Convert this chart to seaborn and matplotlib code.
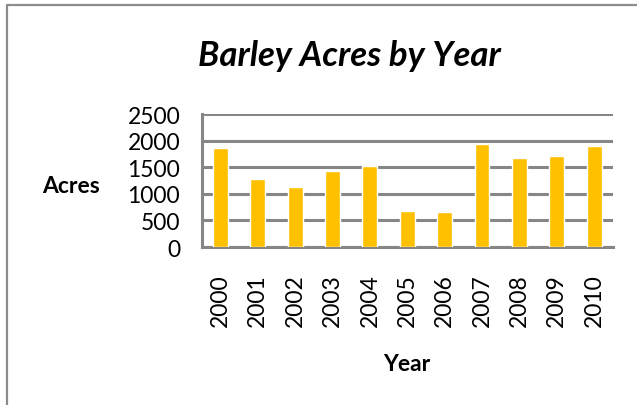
import matplotlib
matplotlib.use("Agg")
import matplotlib.pyplot as plt
import seaborn as sns
import pandas as pd
from matplotlib.lines import Line2D

# Data
years = ["2000", "2001", "2002", "2003", "2004", "2005",
         "2006", "2007", "2008", "2009", "2010"]
acres = [1855, 1270, 1125, 1420, 1520, 685, 650, 1930, 1670, 1710, 1890]

df = pd.DataFrame({"Year": years, "Acres": acres})

sns.set_style("white")
plt.rcParams["font.family"] = ["Lato", "DejaVu Sans"]
plt.rcParams["text.color"] = "black"
plt.rcParams["axes.labelcolor"] = "black"
plt.rcParams["xtick.labelcolor"] = "black"
plt.rcParams["ytick.labelcolor"] = "black"

grid_color = "#868686"

fig = plt.figure(figsize=(6.37, 4.06), dpi=100)
ax = fig.add_axes([0.3167, 0.389, 0.6453, 0.3277])

sns.barplot(x="Year", y="Acres", data=df, color="#FFC000",
            width=0.4, saturation=1, ax=ax, zorder=3)

ax.set_ylim(0, 2500)
ax.set_xlim(-0.5, len(years) - 0.5)
ax.set_yticks([0, 500, 1000, 1500, 2000, 2500])
ax.yaxis.grid(True, color=grid_color, linewidth=2.2)
ax.set_axisbelow(True)

# spines
sns.despine(ax=ax, top=True, right=True)
for side in ["left", "bottom"]:
    ax.spines[side].set_color(grid_color)
    ax.spines[side].set_linewidth(2.2)

# tick marks between categories like Excel
ax.set_xticks([i + 0.5 for i in range(-1, len(years))], minor=True)
ax.tick_params(axis="x", which="minor", length=6, width=2.2,
               color=grid_color, direction="out")
ax.tick_params(axis="x", which="major", length=0, pad=19, labelsize=16.5)
plt.setp(ax.get_xticklabels(), rotation=90)
ax.tick_params(axis="y", length=6.5, width=2.2, color=grid_color,
               direction="out", pad=9, labelsize=16.5)

ax.set_ylabel("Acres", rotation=0, fontsize=16.5, fontweight="bold",
              ha="center", va="center")
ax.yaxis.set_label_coords(-0.319, 0.466)
ax.set_xlabel("Year", fontsize=16.5, fontweight="bold", ha="center", va="center")
ax.xaxis.set_label_coords(0.499, -0.872)

fig.text(0.549, 0.862, "Barley Acres by Year", fontsize=25,
         fontweight="bold", fontstyle="italic", ha="center", va="center")

# chart border (top and left visible)
fig.add_artist(Line2D([7 / 637, 7 / 637], [0, 1 - 6 / 406],
                      color="#8c8c8c", linewidth=1.6))
fig.add_artist(Line2D([7 / 637, 1], [1 - 6 / 406, 1 - 6 / 406],
                      color="#8c8c8c", linewidth=1.6))

plt.savefig("out.png", dpi=100)
